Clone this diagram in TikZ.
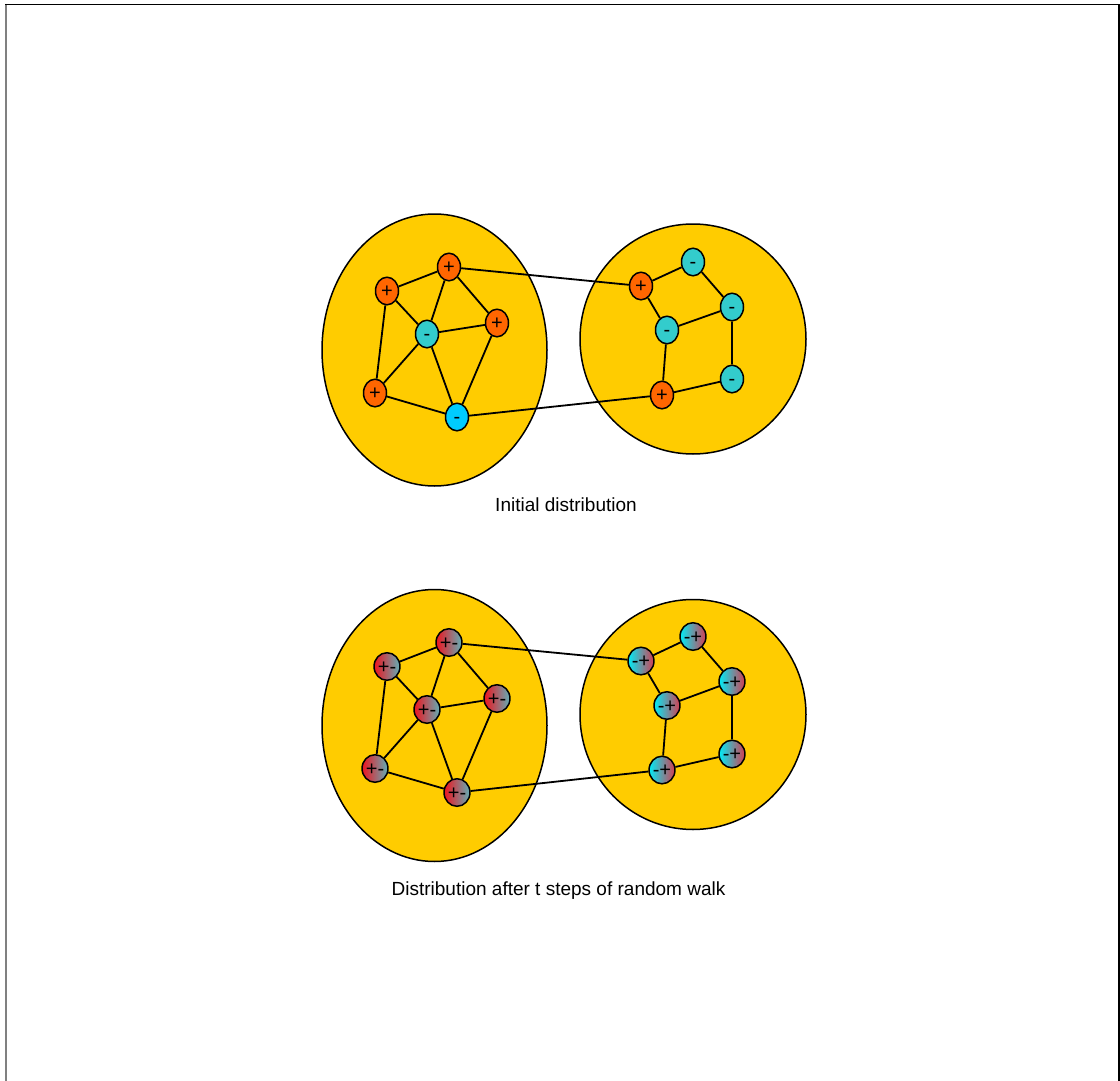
\documentclass[tikz,border=0pt]{standalone}
\usepackage{fontspec}
\setmainfont{Liberation Sans}
\usetikzlibrary{shapes.geometric}
\definecolor{cluster}{RGB}{255,204,0}
\definecolor{plusc}{RGB}{255,102,0}
\definecolor{minusc}{RGB}{51,204,204}
\definecolor{minusb}{RGB}{0,204,255}
\definecolor{mixred}{RGB}{240,20,30}
\definecolor{mixgray}{RGB}{96,176,184}
\definecolor{mixcyan}{RGB}{0,236,246}
\definecolor{mixpink}{RGB}{215,60,80}
\tikzset{
  clusterbox/.style={draw=black, line width=1.5pt, fill=cluster},
  vert/.style={ellipse, draw=black, line width=1.5pt, minimum width=23pt, minimum height=25pt, inner sep=0pt,
    font=\fontsize{20}{20}\selectfont, text height=16.5pt, text depth=3pt},
  vplus/.style={vert, fill=plusc},
  vminus/.style={vert, fill=minusc},
  vminusb/.style={vert, fill=minusb},
  vmixl/.style={vert, left color=mixred, right color=mixgray},
  vmixr/.style={vert, left color=mixcyan, right color=mixpink},
  edge/.style={draw=black, line width=1.8pt},
  caption/.style={font=\fontsize{19}{22}\selectfont, inner sep=0pt}
}
\begin{document}
\begin{tikzpicture}[x=1pt,y=-1pt]
\useasboundingbox (0,0) rectangle (1120,1081);
% frame
\draw[gray, line width=2pt] (6,4) -- (6,1081);
\draw[black, line width=1.3pt] (5,4.5) -- (1119,4.5) -- (1119,1081);

% ===== top: initial distribution =====
\draw[clusterbox] (434.5,350) ellipse [x radius=112.5pt, y radius=136pt];
\draw[clusterbox] (693,339) ellipse [x radius=113pt, y radius=115pt];

\node[vplus]   (a) at (449,267) {+};
\node[vplus]   (b) at (387,291) {+};
\node[vminus]  (c) at (427,334) {-};
\node[vplus]   (d) at (497,323) {+};
\node[vplus]   (e) at (375,393) {+};
\node[vminusb] (f) at (457,417) {-};

\node[vplus]  (g) at (641,286) {+};
\node[vminus] (h) at (693,262) {-};
\node[vminus] (i) at (732,307) {-};
\node[vminus] (j) at (667,330) {-};
\node[vplus]  (k) at (662,395) {+};
\node[vminus] (l) at (732,379) {-};

\path[edge] (a) -- (b) (a) -- (c) (a) -- (d) (b) -- (c) (b) -- (e)
  (c) -- (d) (c) -- (e) (c) -- (f) (d) -- (f) (e) -- (f);
\path[edge] (g) -- (h) (g) -- (j) (h) -- (i) (i) -- (j) (i) -- (l)
  (j) -- (k) (k) -- (l);
\path[edge] (a) -- (g) (f) -- (k);

\node[caption] (cap1) at (566,505) {Initial distribution};

% ===== bottom: after t steps =====
\draw[clusterbox] (434.5,725.5) ellipse [x radius=112.5pt, y radius=136pt];
\draw[clusterbox] (693,714.5) ellipse [x radius=113pt, y radius=115pt];

\node[vmixl] (a2) at (449,642.5) {+-};
\node[vmixl] (b2) at (387,666.5) {+-};
\node[vmixl] (c2) at (427,709.5) {+-};
\node[vmixl] (d2) at (497,698.5) {+-};
\node[vmixl] (e2) at (375,768.5) {+-};
\node[vmixl] (f2) at (457,792.5) {+-};

\node[vmixr] (g2) at (641,661) {-+};
\node[vmixr] (h2) at (693,636.5) {-+};
\node[vmixr] (i2) at (732,681.5) {-+};
\node[vmixr] (j2) at (667,705.5) {-+};
\node[vmixr] (k2) at (662,770) {-+};
\node[vmixr] (l2) at (732,754) {-+};

\path[edge] (a2) -- (b2) (a2) -- (c2) (a2) -- (d2) (b2) -- (c2) (b2) -- (e2)
  (c2) -- (d2) (c2) -- (e2) (c2) -- (f2) (d2) -- (f2) (e2) -- (f2);
\path[edge] (g2) -- (h2) (g2) -- (j2) (h2) -- (i2) (i2) -- (j2) (i2) -- (l2)
  (j2) -- (k2) (k2) -- (l2);
\path[edge] (a2) -- (g2) (f2) -- (k2);

\node[caption] (cap2) at (558.5,891) {Distribution after t steps of random walk};
\end{tikzpicture}
\end{document}
